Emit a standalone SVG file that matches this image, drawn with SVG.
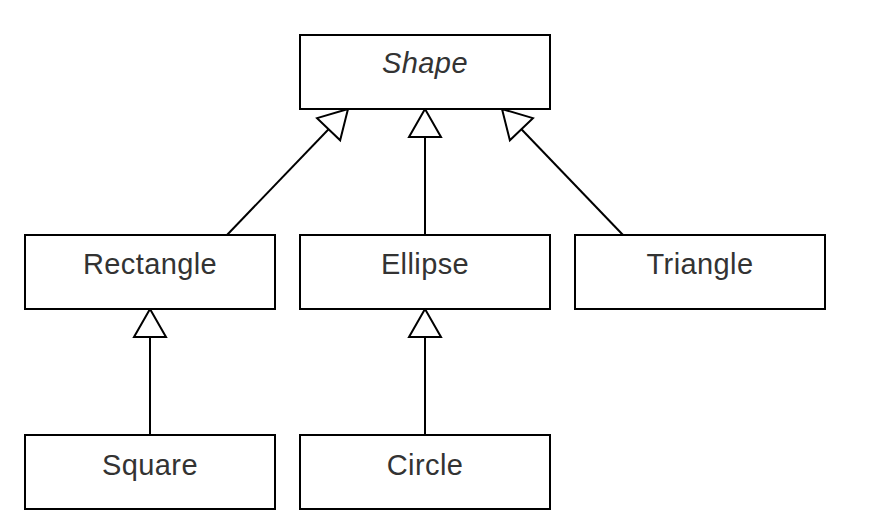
<svg xmlns="http://www.w3.org/2000/svg" width="874" height="532" viewBox="0 0 874 532">
  <style>
    .box { fill: #ffffff; stroke: #000000; stroke-width: 2; }
    .lbl { font-family: "Liberation Sans", Arial, sans-serif; font-size: 29px; fill: #333333; text-anchor: middle; letter-spacing: 0.4px; }
    .it { font-style: italic; }
    .edge { stroke: #000000; stroke-width: 2; fill: none; marker-end: url(#gen); }
  </style>
  <defs>
    <marker id="gen" markerUnits="userSpaceOnUse" viewBox="-3 -3 34 38" markerWidth="34" markerHeight="38" refX="28" refY="16" orient="auto">
      <path d="M0,0 L28,16 L0,32 Z" fill="#ffffff" stroke="#000000" stroke-width="2" stroke-linejoin="miter"/>
    </marker>
  </defs>
  <rect width="874" height="532" fill="#ffffff"/>
  <g id="connectors">
    <line class="edge" x1="227" y1="235" x2="348" y2="109"/>
    <line class="edge" x1="425" y1="235" x2="425" y2="109"/>
    <line class="edge" x1="623" y1="235" x2="502" y2="109"/>
    <line class="edge" x1="150" y1="435" x2="150" y2="309"/>
    <line class="edge" x1="425" y1="435" x2="425" y2="309"/>
  </g>
  <g id="shape">
    <rect class="box" x="300" y="35" width="250" height="74"/>
    <text class="lbl it" x="425" y="73">Shape</text>
  </g>
  <g id="rectangle">
    <rect class="box" x="25" y="235" width="250" height="74"/>
    <text class="lbl" x="150" y="274">Rectangle</text>
  </g>
  <g id="ellipse">
    <rect class="box" x="300" y="235" width="250" height="74"/>
    <text class="lbl" x="425" y="274">Ellipse</text>
  </g>
  <g id="triangle">
    <rect class="box" x="575" y="235" width="250" height="74"/>
    <text class="lbl" x="700" y="274">Triangle</text>
  </g>
  <g id="square">
    <rect class="box" x="25" y="435" width="250" height="74"/>
    <text class="lbl" x="150" y="475">Square</text>
  </g>
  <g id="circle">
    <rect class="box" x="300" y="435" width="250" height="74"/>
    <text class="lbl" x="425" y="475">Circle</text>
  </g>
</svg>
